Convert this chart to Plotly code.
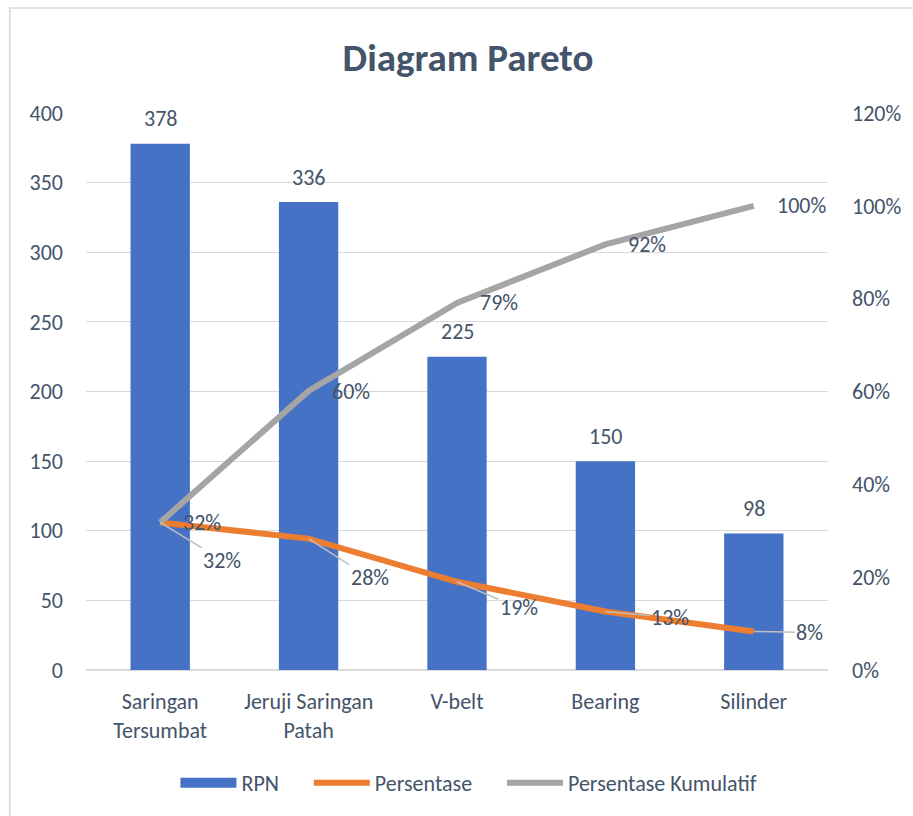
import plotly.graph_objects as go

categories = ["Saringan<br>Tersumbat", "Jeruji Saringan<br>Patah", "V-belt", "Bearing", "Silinder"]
rpn = [378, 336, 225, 150, 98]
persentase = [0.318, 0.283, 0.190, 0.126, 0.083]
kumulatif = [0.318, 0.601, 0.791, 0.917, 1.0]
left_ticks = [0, 50, 100, 150, 200, 250, 300, 350, 400]
right_ticks = [0, 0.2, 0.4, 0.6, 0.8, 1.0, 1.2]
right_labels = ["0%", "20%", "40%", "60%", "80%", "100%", "120%"]
pct_label_offsets = [(62, 38), (61, 39), (62, 26), (65, 6), (56, 1)]

FONT = "Carlito, Lato, sans-serif"
TXT = "#44546A"
FS = 22
BAR = "#4672C6"
PAD = "\u00a0" * 5

fig = go.Figure()
fig.add_trace(go.Bar(x=categories, y=rpn, name="RPN", width=0.4, showlegend=False,
                     marker=dict(color=BAR, line=dict(width=0))))
# legend-only swatch for the bars (wide rectangle like the original)
fig.add_trace(go.Scatter(x=[None], y=[None], name="RPN" + PAD, mode="lines",
                         line=dict(color=BAR, width=14)))
fig.add_trace(go.Scatter(x=categories, y=persentase, name="Persentase" + PAD, yaxis="y2",
                         mode="lines", line=dict(color="#ED7D31", width=6)))
fig.add_trace(go.Scatter(x=categories, y=kumulatif, name="Persentase Kumulatif", yaxis="y2",
                         mode="lines", line=dict(color="#A5A5A5", width=6)))

ann = []
for c, v in zip(categories, rpn):
    ann.append(dict(x=c, y=v, xref="x", yref="y", text=str(v), showarrow=False,
                    yanchor="middle", yshift=25, font=dict(size=FS, color=TXT, family=FONT)))
for c, v in zip(categories, kumulatif):
    ann.append(dict(x=c, y=v, xref="x", yref="y2", text=f"{round(v*100)}%", showarrow=False,
                    xanchor="left", xshift=21, font=dict(size=FS, color=TXT, family=FONT)))
for c, v, (dx, dy) in zip(categories, persentase, pct_label_offsets):
    ann.append(dict(x=c, y=v, xref="x", yref="y2", text=f"{round(v*100)}%", showarrow=True,
                    arrowhead=0, arrowwidth=1.5, arrowcolor="#BFBFBF", ax=dx, ay=dy,
                    font=dict(size=FS, color=TXT, family=FONT)))

L, R, T, B = 85.5, 82.5, 113, 146
pw, ph = 913 - L - R, 816 - T - B

fig.update_layout(
    width=913, height=816,
    margin=dict(l=L, r=R, t=T, b=B),
    paper_bgcolor="white", plot_bgcolor="white",
    font=dict(family=FONT, color=TXT, size=FS),
    title=dict(text="<b>Diagram Pareto</b>", x=468/913, xanchor="center", xref="container",
               y=1 - 57/816, yanchor="middle", yref="container",
               font=dict(size=39, color=TXT, family=FONT)),
    showlegend=True,
    legend=dict(orientation="h", x=(470 - L)/pw, xanchor="center", y=-(783 - 670)/ph,
                yanchor="middle", font=dict(size=FS, color=TXT, family=FONT),
                traceorder="normal", itemwidth=56),
    xaxis=dict(showgrid=False, showline=False, ticks="", ticklabelstandoff=16,
               tickfont=dict(size=FS, color=TXT, family=FONT)),
    yaxis=dict(range=[0, 400], tickvals=left_ticks, showgrid=True, gridcolor="#D9D9D9",
               gridwidth=1, zeroline=True, zerolinecolor="#D9D9D9", showline=False, ticks="",
               ticklabelstandoff=22, tickfont=dict(size=FS, color=TXT, family=FONT)),
    yaxis2=dict(range=[0, 1.2], tickvals=right_ticks, ticktext=right_labels, overlaying="y",
                side="right", showgrid=False, zeroline=False, showline=False, ticks="",
                ticklabelstandoff=23, tickfont=dict(size=FS, color=TXT, family=FONT)),
    annotations=ann,
)

fig.add_shape(type="rect", xref="paper", yref="paper",
              x0=(9 - L)/pw, x1=1.5, y0=-1, y1=1 + (T - 8)/ph,
              line=dict(color="#DDE2E8", width=2), fillcolor="rgba(0,0,0,0)", layer="below")

fig.write_html("out.html")
